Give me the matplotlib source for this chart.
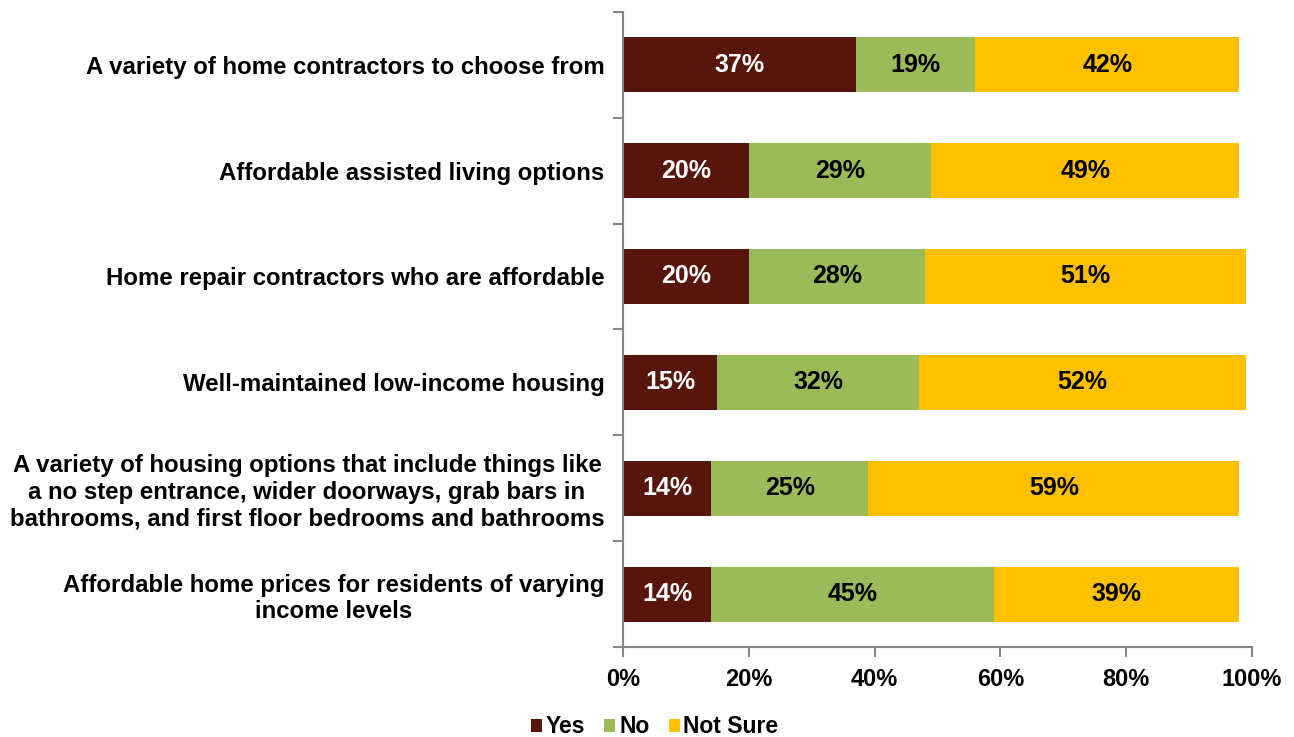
import numpy as np
import matplotlib.pyplot as plt
from matplotlib.ticker import FuncFormatter, FixedLocator

plt.rcParams['font.family'] = ['Liberation Sans', 'DejaVu Sans']
plt.rcParams['font.weight'] = 'bold'

categories = [
    "A variety of home contractors to choose from",
    "Affordable assisted living options",
    "Home repair contractors who are affordable",
    "Well-maintained low-income housing",
    "A variety of housing options that include things like\na no step entrance, wider doorways, grab bars in\nbathrooms, and first floor bedrooms and bathrooms",
    "Affordable home prices for residents of varying\nincome levels",
]
yes = [37, 20, 20, 15, 14, 14]
no = [19, 29, 28, 32, 25, 45]
not_sure = [42, 49, 51, 52, 59, 39]

series = [("Yes", yes, "#58150C", "white"),
          ("No", no, "#9BBB59", "black"),
          ("Not Sure", not_sure, "#FFC000", "black")]

fig = plt.figure(figsize=(12.94, 7.37), dpi=100)
ax = fig.add_axes([0.4815, 0.122, 0.486, 0.862])

y = np.arange(len(categories))
left = np.zeros(len(categories))
for name, vals, col, tcol in series:
    vals = np.array(vals, dtype=float)
    bars = ax.barh(y, vals, left=left, height=0.52, color=col, label=name)
    for b, v in zip(bars, vals):
        ax.text(b.get_x() + b.get_width() / 2, b.get_y() + b.get_height() / 2,
                f"{v:.0f}%", ha='center', va='center', color=tcol,
                fontsize=18, fontweight='bold')
    left += vals

ax.set_xlim(0, 100)
ax.set_ylim(len(categories) - 0.5, -0.5)
ax.set_xticks(np.arange(0, 101, 20))
ax.xaxis.set_major_formatter(FuncFormatter(lambda v, p: f"{v:.0f}%"))

# category labels sit between boundary ticks
ax.yaxis.set_major_locator(FixedLocator(np.arange(-0.5, len(categories), 1)))
ax.yaxis.set_major_formatter(FuncFormatter(lambda v, p: ""))
ax.set_yticks(y, minor=True)
ax.set_yticklabels(categories, minor=True, ha='right', multialignment='center')
ax.tick_params(axis='y', which='minor', length=0, pad=13.5, labelsize=17.3)
ax.tick_params(axis='y', which='major', length=7, width=1.5, color='#868686')
ax.tick_params(axis='x', length=7, width=1.5, color='#868686', labelsize=17, pad=8)
for lab in ax.get_xticklabels():
    lab.set_fontweight('bold')
for lab in ax.get_yticklabels(minor=True):
    lab.set_fontweight('bold')

for s in ['top', 'right']:
    ax.spines[s].set_visible(False)
for s in ['left', 'bottom']:
    ax.spines[s].set_color('#868686')
    ax.spines[s].set_linewidth(1.5)

fig.legend(loc='lower center', bbox_to_anchor=(0.506, -0.03), ncol=3, frameon=False,
           prop={'size': 16.5, 'weight': 'bold'}, handlelength=0.48, handleheight=0.48,
           handletextpad=0.17, columnspacing=0.83)

fig.savefig("out.png", dpi=100)
